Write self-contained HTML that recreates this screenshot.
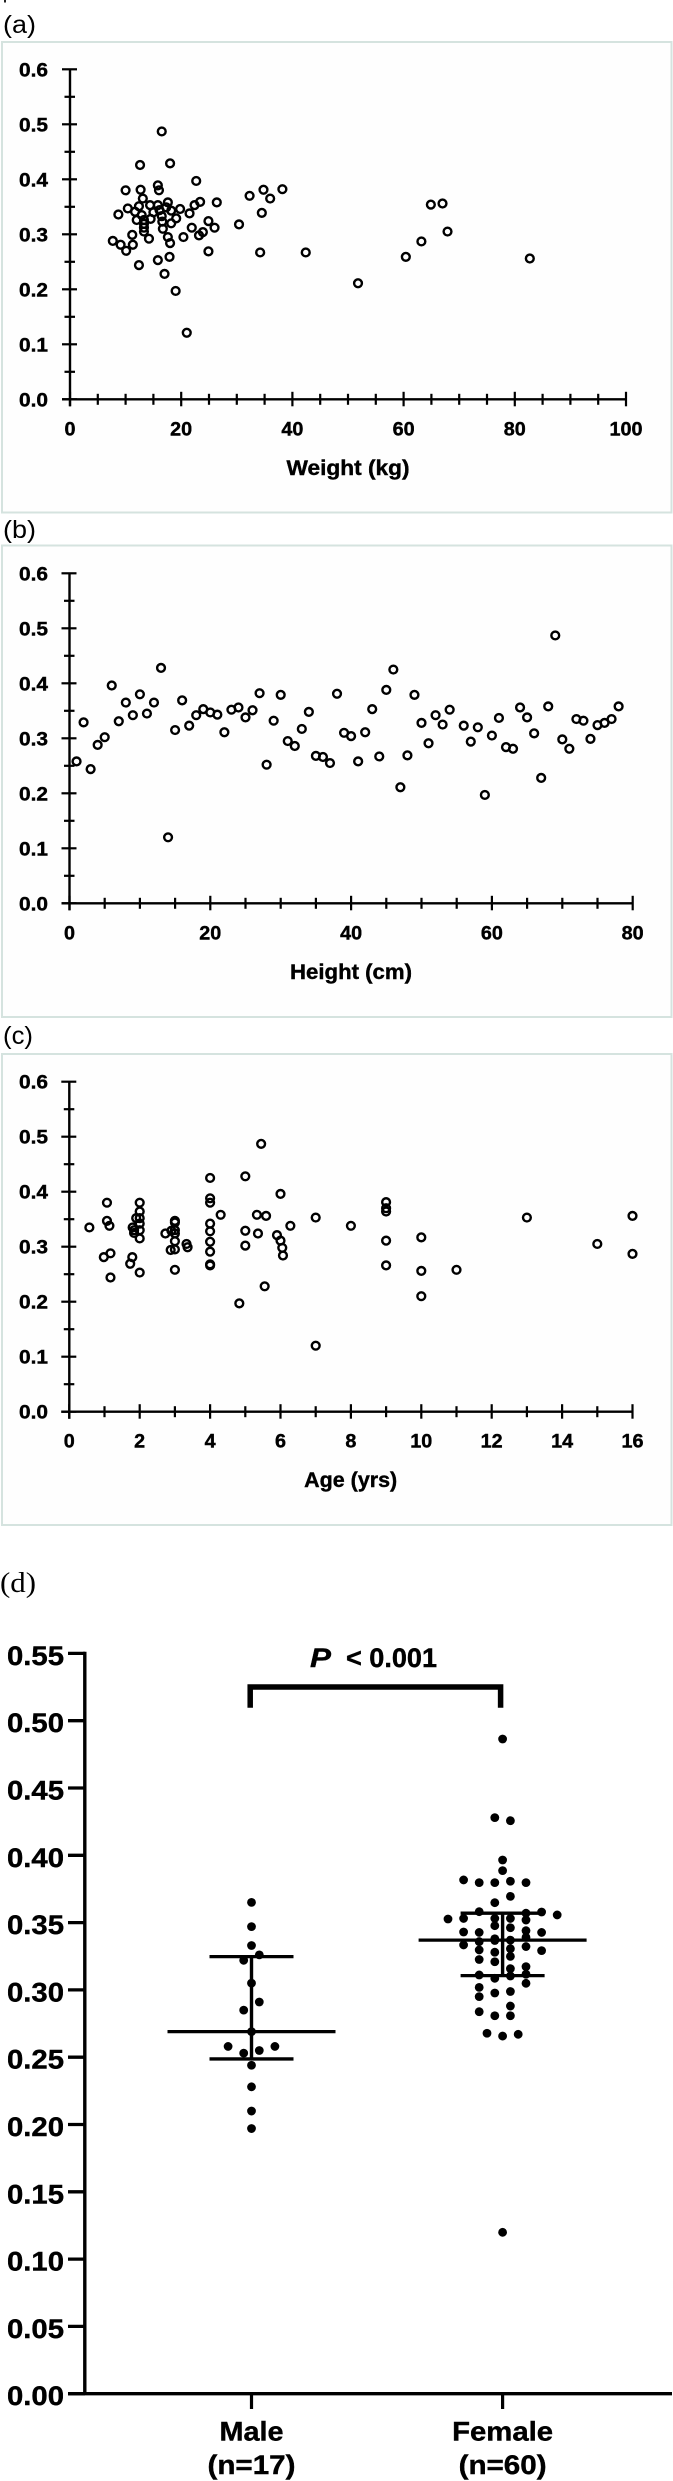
<!DOCTYPE html>
<html lang="en">
<head>
<meta charset="utf-8">
<title>Scatter plots by weight, height, age and dot plot by sex</title>
<style>
html,body{margin:0;padding:0;background:#fff;width:673px;height:2481px;overflow:hidden}
svg{display:block}
text{font-family:"Liberation Sans",sans-serif;fill:#000}
text[font-weight="700"]{stroke:#000;stroke-width:.4px}
.panel-box{fill:#fefefe;stroke:#d5e3df;stroke-width:2}
</style>
</head>
<body>
<svg id="figure" xmlns="http://www.w3.org/2000/svg" width="673" height="2481" viewBox="0 0 673 2481">
  <rect x="0" y="0" width="673" height="2481" fill="#fff"/>
  <rect x="4" y="0" width="2" height="2.5" fill="#222"/>

  <text x="3" y="33" font-size="25" textLength="33" lengthAdjust="spacingAndGlyphs">(a)</text>
  <rect class="panel-box" x="2" y="42" width="669.5" height="470.5"/>
  <g id="panel-a"></g>
  <text x="348" y="475" font-size="21" font-weight="700" text-anchor="middle" textLength="123" lengthAdjust="spacingAndGlyphs">Weight (kg)</text>

  <text x="3" y="538" font-size="25" textLength="33" lengthAdjust="spacingAndGlyphs">(b)</text>
  <rect class="panel-box" x="2" y="545.5" width="669.5" height="471.5"/>
  <g id="panel-b"></g>
  <text x="351" y="979" font-size="21" font-weight="700" text-anchor="middle" textLength="122" lengthAdjust="spacingAndGlyphs">Height (cm)</text>

  <text x="3" y="1044" font-size="25" textLength="30" lengthAdjust="spacingAndGlyphs">(c)</text>
  <rect class="panel-box" x="2" y="1054" width="669.5" height="471"/>
  <g id="panel-c"></g>
  <text x="350.7" y="1487" font-size="21" font-weight="700" text-anchor="middle" textLength="93" lengthAdjust="spacingAndGlyphs">Age (yrs)</text>

  <text x="0" y="1592" font-size="29" style="font-family:'Liberation Serif',serif" textLength="36" lengthAdjust="spacingAndGlyphs">(d)</text>
  <g id="panel-d"></g>
  <text x="310" y="1667" font-size="27" font-weight="700" font-style="italic" textLength="21" lengthAdjust="spacingAndGlyphs">P</text>
  <text x="346" y="1667" font-size="27" font-weight="700" textLength="91" lengthAdjust="spacingAndGlyphs">&lt; 0.001</text>
  <path d="M250.2 1707.7 V1687 H500.6 V1707.7" fill="none" stroke="#000" stroke-width="5.5"/>
</svg>
<script>
const yTickValues = [0, 0.1, 0.2, 0.3, 0.4, 0.5, 0.6];

const weightTicks = [0, 20, 40, 60, 80, 100];
const weightKg = [16.5,12.6,18.0,22.7,15.8,16.0,10.0,12.7,13.1,32.3,34.8,36.0,38.2,34.5,30.4,26.4,23.4,22.4,21.5,19.8,19.1,18.2,18.2,17.6,17.3,15.8,14.4,12.4,10.4,8.7,11.7,12.9,12.0,14.5,15.0,16.1,16.5,16.6,16.7,13.3,13.3,13.3,13.3,14.2,11.2,7.7,9.1,11.3,10.1,17.6,18.0,20.4,21.9,23.2,23.9,24.9,26.0,24.9,34.2,42.4,15.8,17.9,12.4,64.9,67.0,67.9,63.2,60.4,82.7,17.0,19.0,21.0,51.8];
const weightRatio = [.487,.426,.429,.397,.389,.380,.380,.381,.365,.370,.381,.365,.382,.339,.318,.358,.359,.353,.338,.346,.329,.320,.343,.358,.349,.353,.353,.351,.347,.336,.341,.335,.326,.328,.340,.344,.333,.323,.310,.326,.319,.312,.305,.292,.299,.288,.281,.281,.270,.295,.284,.295,.312,.298,.304,.324,.312,.269,.267,.267,.253,.259,.244,.354,.356,.305,.287,.259,.256,.228,.197,.121,.211];

const heightTicks = [0, 20, 40, 60, 80];
const heightCm = [1,2,3,4,5,6,7,8,9,10,11,12,13,14,15,16,17,18,19,20,21,22,23,24,25,26,27,28,29,30,31,32,33,34,35,36,37,38,39,40,41,42,43,44,45,46,47,48,49,50,51,52,53,54,56,57,58,59,60,61,62,63,64,65,66,67,68,69,70,71,72,73,74,75,76,77,78];
const heightRatio = [.258,.329,.244,.288,.302,.396,.331,.365,.342,.380,.345,.365,.428,.120,.315,.369,.323,.342,.353,.347,.343,.311,.352,.356,.338,.351,.382,.252,.332,.379,.295,.286,.317,.348,.268,.266,.255,.381,.310,.304,.258,.311,.353,.267,.388,.425,.211,.269,.379,.328,.291,.342,.325,.352,.323,.294,.320,.197,.305,.337,.284,.281,.356,.338,.309,.228,.358,.487,.298,.281,.335,.332,.299,.324,.328,.335,.358];

const ageTicks = [0, 2, 4, 6, 8, 10, 12, 14, 16];
const ageYears = [.57,1.07,1.07,1.14,1.17,.98,1.17,2,2,1.9,2,2,1.8,1.84,1.84,2,2,1.79,1.73,2,3,3,3,3,2.73,2.9,3,2.88,3,3,3.33,3.36,4,4,4,4,4,4,4,4,4,4.3,5,5,5,4.83,5.45,5.33,5.59,5.36,5.55,6,6.28,5.9,6,6.05,6.07,7,7,8,9,9,9,9,9,10,10,10,11,13,15,16,16];
const ageRatio = [.335,.380,.347,.338,.288,.281,.244,.380,.364,.352,.352,.342,.335,.330,.325,.330,.315,.281,.269,.253,.347,.344,.330,.324,.324,.329,.310,.294,.295,.258,.305,.299,.425,.388,.380,.342,.328,.309,.291,.268,.266,.358,.428,.329,.302,.197,.487,.358,.356,.324,.228,.396,.338,.321,.311,.298,.284,.353,.120,.338,.381,.370,.364,.311,.266,.317,.256,.210,.258,.353,.305,.356,.287];

const groupNames = ["Male", "Female"];
const groupSizes = ["(n=17)", "(n=60)"];
const dTickValues = [0, 0.05, 0.10, 0.15, 0.20, 0.25, 0.30, 0.35, 0.40, 0.45, 0.50, 0.55];

const maleRatio = [.365,.347,.333,.326,.322,.305,.291,.285,.269,.258,.258,.255,.253,.244,.228,.210,.197];
const maleSwarmSlot = [0,0,0,1,-1,0,1,-1,0,-3,3,1,-1,0,0,0,0];
const maleSummary = [.2487, .269, .3247];

const femaleRatio = [.4864,.428,.4257,.3965,.3886,.3817,.3797,.3797,.3807,.3797,.3695,.3648,.3581,.3579,.357,.3557,.3527,.3531,.3531,.3531,.3519,.3477,.3462,.344,.343,.3427,.3427,.338,.337,.339,.3334,.3359,.3367,.3306,.3322,.3292,.3297,.328,.3249,.3226,.3209,.3158,.3173,.3111,.3086,.3103,.3116,.3049,.3019,.295,.2977,.2988,.288,.2838,.2808,.2808,.2678,.2657,.267,.1199];
const femaleSwarmSlot = [0,-1,1,0,0,-5,-3,-1,1,3,1,-1,-3,5,3,7,-7,-5,-1,1,3,-1,1,3,-5,-3,5,-1,1,3,-5,-3,-1,1,3,5,-3,-1,1,-3,-1,1,3,-3,-1,1,3,3,-3,-3,-1,1,1,-3,-1,1,-2,0,2,0];
const femaleSummary = [.3106, .337, .357];

const SVG_NS = "http://www.w3.org/2000/svg";

function addLine(parent, x1, y1, x2, y2, width, name) {
  const el = document.createElementNS(SVG_NS, "line");
  el.setAttribute("x1", x1);
  el.setAttribute("y1", y1);
  el.setAttribute("x2", x2);
  el.setAttribute("y2", y2);
  el.setAttribute("stroke", "#000");
  el.setAttribute("stroke-width", width);
  
  
  parent.appendChild(el);
  return el;
}

function addText(parent, x, y, str, size, anchor, len, name) {
  const el = document.createElementNS(SVG_NS, "text");
  el.setAttribute("x", x);
  el.setAttribute("y", y);
  el.setAttribute("font-size", size);
  el.setAttribute("font-weight", "700");
  el.setAttribute("text-anchor", anchor);
  el.setAttribute("textLength", len);
  el.setAttribute("lengthAdjust", "spacingAndGlyphs");
  el.textContent = str;
  
  
  parent.appendChild(el);
  return el;
}

function addDot(parent, cx, cy, r, filled, name) {
  const el = document.createElementNS(SVG_NS, "circle");
  el.setAttribute("cx", cx);
  el.setAttribute("cy", cy);
  el.setAttribute("r", r);
  el.setAttribute("fill", filled ? "#000" : "none");
  if (!filled) {
    el.setAttribute("stroke", "#000");
    el.setAttribute("stroke-width", "2.4");
  }
  
  
  parent.appendChild(el);
  return el;
}

function labelWidth(str) {
  let w = 0;
  for (const ch of str) w += ch === "." ? 7 : 11;
  return w;
}

function drawScatter(panelId, originX, originY, unitPx, minorStep, xTicks, xValues, yValues, key) {
  const panel = document.getElementById(panelId);
  const sx = v => originX + v * unitPx;
  const sy = v => originY - v * 550;
  const yMax = Math.max(...yTickValues);
  const xMax = Math.max(...xTicks);

  addLine(panel, originX, sy(yMax), originX, originY + 7, 2.4, key + "-y-axis");
  addLine(panel, originX - 8, originY, sx(xMax), originY, 2.4, key + "-x-axis");

  yTickValues.forEach((v, i) => {
    addLine(panel, originX - 8, sy(v), originX + 7, sy(v), 2.2, key + "-y-tick");
    const label = v.toFixed(1);
    addText(panel, 48, sy(v) + 7, label, 19, "end", labelWidth(label), key + "-y-tick-label");
    if (i < yTickValues.length - 1) {
      const mid = (v + yTickValues[i + 1]) / 2;
      addLine(panel, originX - 5.5, sy(mid), originX + 5, sy(mid), 2.2, key + "-y-minor-tick");
    }
  });

  for (let m = minorStep; m <= xMax + 1e-6; m += minorStep) {
    if (!xTicks.includes(m)) {
      addLine(panel, sx(m), originY - 5.5, sx(m), originY + 5.5, 2.2, key + "-x-minor-tick");
    }
  }
  xTicks.forEach(v => {
    addLine(panel, sx(v), originY - 7.5, sx(v), originY + 7, 2.2, key + "-x-tick");
    const label = String(v);
    addText(panel, sx(v), originY + 36, label, 19, "middle", labelWidth(label), key + "-x-tick-label");
  });

  xValues.forEach((v, i) => {
    addDot(panel, sx(v), sy(yValues[i]), 3.9, false, key + "-point");
  });
}

drawScatter("panel-a", 70, 399.3, 5.56, 5, weightTicks, weightKg, weightRatio, "weight");
drawScatter("panel-b", 69.5, 903.3, 7.04, 5, heightTicks, heightCm, heightRatio, "height");
drawScatter("panel-c", 69.3, 1411.7, 35.2, 1, ageTicks, ageYears, ageRatio, "age");

(function drawDotPlot() {
  const panel = document.getElementById("panel-d");
  const originY = 2393.7;
  const unitY = 1346;
  const groupX = [251.5, 502.6];
  const slotPx = 7.8;
  const sy = v => originY - v * unitY;

  addLine(panel, 84.8, sy(0.55) - 1.7, 84.8, originY, 3.4, "dot-plot-y-axis");
  addLine(panel, 68, originY, 672, originY, 3.3, "dot-plot-x-axis");

  dTickValues.forEach(v => {
    addLine(panel, 68, sy(v), 85, sy(v), 3.3, "dot-plot-y-tick");
    addText(panel, 64, sy(v) + 11.5, v.toFixed(2), 27, "end", 57, "dot-plot-y-tick-label");
  });

  groupNames.forEach((name, i) => {
    addLine(panel, groupX[i], originY, groupX[i], 2409, 3.2, "dot-plot-x-tick");
    addText(panel, groupX[i], 2440.7, name, 27, "middle", i === 0 ? 64 : 101, "group-label-" + name.toLowerCase());
    addText(panel, groupX[i], 2474, groupSizes[i], 27, "middle", 88, "group-size-" + name.toLowerCase());
  });

  maleRatio.forEach((v, i) => {
    addDot(panel, groupX[0] + maleSwarmSlot[i] * slotPx, sy(v), 4.4, true, "male-point");
  });
  femaleRatio.forEach((v, i) => {
    addDot(panel, groupX[1] + femaleSwarmSlot[i] * slotPx, sy(v), 4.4, true, "female-point");
  });

  function drawSummary(cx, summary, key) {
    addLine(panel, cx, sy(summary[2]), cx, sy(summary[0]), 3.4, key + "-iqr-line");
    addLine(panel, cx - 84, sy(summary[1]), cx + 84, sy(summary[1]), 3.3, key + "-median-line");
    addLine(panel, cx - 42, sy(summary[2]), cx + 42, sy(summary[2]), 3.3, key + "-upper-quartile-line");
    addLine(panel, cx - 42, sy(summary[0]), cx + 42, sy(summary[0]), 3.3, key + "-lower-quartile-line");
  }
  drawSummary(groupX[0], maleSummary, "male");
  drawSummary(groupX[1], femaleSummary, "female");
})();
</script>
</body>
</html>
